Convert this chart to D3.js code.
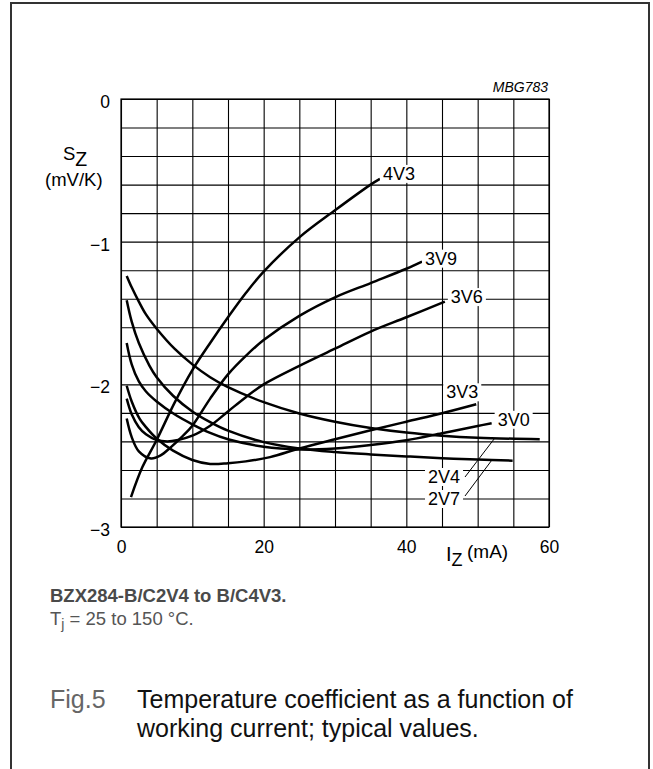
<!DOCTYPE html>
<html>
<head>
<meta charset="utf-8">
<script src="https://cdn.jsdelivr.net/npm/d3@7"></script>
<style>
  body { margin: 0; background: #fff; }
  svg { display: block; font-family: "Liberation Sans", Arial, sans-serif; }
</style>
</head>
<body>
<svg id="chart" width="653" height="769"></svg>
<script>
// axis ticks (labelled) and grid steps
var xTicks = [0, 20, 40, 60];
var yTicks = [0, -1, -2, -3];
var xGrid = d3.range(0, 61, 5);
var yGrid = d3.range(0, 16).map(function(i) { return -i * 0.2; });

// curves: [Iz (mA), Sz (mV/K)]
var curve4V3 = [[1.4,-2.79],[3,-2.58],[5,-2.39],[7.5,-2.13],[10,-1.90],[12.5,-1.71],[15,-1.53],[17.5,-1.36],[20,-1.21],[25,-0.97],[30,-0.78],[35,-0.60],[36.3,-0.56]];
var curve3V9 = [[0.8,-2.24],[1.5,-2.37],[2.5,-2.47],[4.2,-2.52],[5.5,-2.50],[7,-2.44],[8.5,-2.37],[10,-2.29],[12.5,-2.10],[15,-1.93],[17.5,-1.80],[20,-1.69],[25,-1.52],[30,-1.39],[35,-1.29],[40,-1.19],[42.2,-1.14]];
var curve3V6 = [[0.8,-2.10],[1.5,-2.21],[2.5,-2.30],[3.5,-2.35],[5,-2.39],[6.5,-2.40],[8,-2.39],[10,-2.36],[12.5,-2.29],[15,-2.19],[17.5,-2.09],[20,-2.00],[25,-1.87],[30,-1.75],[35,-1.63],[40,-1.53],[45.4,-1.42]];
var curve3V3 = [[0.8,-2.01],[1.5,-2.12],[2.6,-2.24],[3.5,-2.30],[5,-2.38],[7.3,-2.465],[10,-2.53],[12.5,-2.558],[15,-2.553],[17.5,-2.54],[20.9,-2.51],[25,-2.45],[30,-2.385],[35,-2.322],[40,-2.262],[45,-2.203],[49.8,-2.14]];
var curve3V0 = [[0.8,-1.71],[1.5,-1.86],[2.5,-1.98],[3.5,-2.05],[5,-2.12],[7.5,-2.21],[10,-2.28],[12.5,-2.34],[15,-2.385],[20,-2.437],[25,-2.456],[30,-2.449],[35,-2.425],[40,-2.392],[45,-2.343],[50,-2.292],[51.96,-2.273]];
var curve2V7 = [[0.8,-1.41],[1.5,-1.56],[2.5,-1.71],[4,-1.87],[5,-1.95],[7.3,-2.08],[10,-2.19],[12.5,-2.265],[15,-2.325],[20,-2.405],[25,-2.449],[30,-2.474],[35,-2.491],[40,-2.505],[45,-2.518],[50,-2.527],[54.9,-2.535]];
var curve2V4 = [[0.8,-1.24],[1.5,-1.32],[2.5,-1.42],[3.5,-1.51],[5,-1.61],[7.5,-1.75],[10,-1.86],[12.5,-1.95],[15,-2.02],[20,-2.125],[25,-2.204],[30,-2.262],[35,-2.306],[40,-2.338],[45,-2.36],[50,-2.374],[58.7,-2.385]];

var curveNames = ['4V3', '3V9', '3V6', '3V3', '3V0', '2V7', '2V4'];
var curveData = [curve4V3, curve3V9, curve3V6, curve3V3, curve3V0, curve2V7, curve2V4];

// where each label sits: relative to the end of its curve, or
// (for 2V4 / 2V7) at a fixed spot with a leader line to the curve
var labelLayout = {
  '4V3': { dx: 3, dy: 1 },
  '3V9': { dx: 3, dy: 3 },
  '3V6': { dx: 6, dy: 1.5 },
  '3V3': { dx: -30, dy: -6 },
  '3V0': { dx: 6, dy: 2.5 },
  '2V4': { x: 428, y: 483, leaderAt: 52.4, lx: 465, ly: 477 },
  '2V7': { x: 428, y: 505, leaderAt: 52.0, lx: 465, ly: 496 }
};

var svg = d3.select('#chart');
var x = d3.scaleLinear().domain([0, 60]).range([121, 549]);
var y = d3.scaleLinear().domain([0, -3]).range([99, 527]);

// outer frame of the datasheet figure
svg.append('path')
  .attr('d', 'M11,772 V3 H649 V772')
  .attr('fill', 'none')
  .attr('stroke', '#333')
  .attr('stroke-width', 2);

// grid, drawn with axes whose ticks span the plot
svg.append('g')
  .attr('transform', 'translate(0,' + y(-3) + ')')
  .call(d3.axisBottom(x).tickValues(xGrid).tickSize(-(y(-3) - y(0))).tickFormat(''));
svg.append('g')
  .attr('transform', 'translate(' + x(0) + ',0)')
  .call(d3.axisLeft(y).tickValues(yGrid).tickSize(-(x(60) - x(0))).tickFormat(''));
svg.selectAll('.domain').remove();
svg.selectAll('.tick line').attr('stroke', '#000').attr('stroke-width', 1.1);

svg.append('rect')
  .attr('x', x(0)).attr('y', y(0))
  .attr('width', x(60) - x(0)).attr('height', y(-3) - y(0))
  .attr('fill', 'none').attr('stroke', '#000').attr('stroke-width', 1.2);

// tick labels
var fmt = d3.format('d');
var yAxis = svg.append('g')
  .attr('transform', 'translate(' + x(0) + ',0)')
  .call(d3.axisLeft(y).tickValues(yTicks).tickSize(0).tickPadding(11).tickFormat(fmt));
var xAxis = svg.append('g')
  .attr('transform', 'translate(0,' + y(-3) + ')')
  .call(d3.axisBottom(x).tickValues(xTicks).tickSize(0).tickPadding(14).tickFormat(fmt));
yAxis.select('.domain').remove();
xAxis.select('.domain').remove();
yAxis.selectAll('text').attr('dy', '0.48em');
svg.selectAll('.tick text')
  .attr('font-family', '"Liberation Sans", Arial, sans-serif')
  .attr('font-size', 17.5)
  .attr('fill', '#000');

// curves
var line = d3.line()
  .x(function(d) { return x(d[0]); })
  .y(function(d) { return y(d[1]); })
  .curve(d3.curveCatmullRom.alpha(0.5));

svg.append('g').selectAll('path')
  .data(curveData)
  .enter().append('path')
  .attr('d', line)
  .attr('fill', 'none')
  .attr('stroke', '#000')
  .attr('stroke-width', 2.5);

// linear lookup of Sz at a given current on one curve
function valueAt(data, iz) {
  for (var i = 1; i < data.length; i++) {
    if (iz <= data[i][0]) {
      var t = (iz - data[i-1][0]) / (data[i][0] - data[i-1][0]);
      return data[i-1][1] + t * (data[i][1] - data[i-1][1]);
    }
  }
  return data[data.length - 1][1];
}

var labelGroup = svg.append('g');
curveNames.forEach(function(name, i) {
  var data = curveData[i];
  var layout = labelLayout[name];
  var tx, ty;
  if (layout.leaderAt !== undefined) {
    tx = layout.x;
    ty = layout.y;
    labelGroup.append('line')
      .attr('x1', layout.lx).attr('y1', layout.ly)
      .attr('x2', x(layout.leaderAt)).attr('y2', y(valueAt(data, layout.leaderAt)))
      .attr('stroke', '#000').attr('stroke-width', 1);
  } else {
    var end = data[data.length - 1];
    tx = x(end[0]) + layout.dx;
    ty = y(end[1]) + layout.dy;
  }
  var g = labelGroup.append('g');
  var txt = g.append('text')
    .attr('x', tx).attr('y', ty)
    .attr('font-size', 18)
    .text(name);
  // white box behind the label knocks out the grid
  var bb = txt.node().getBBox();
  g.insert('rect', 'text')
    .attr('x', bb.x - 3).attr('y', bb.y + 1)
    .attr('width', bb.width + 6).attr('height', bb.height - 2)
    .attr('fill', '#fff');
});

// figure code
svg.append('text')
  .attr('x', 548).attr('y', 92)
  .attr('text-anchor', 'end')
  .attr('font-size', 14)
  .attr('font-style', 'italic')
  .text('MBG783');

// axis titles
var sz = svg.append('text').attr('x', 63).attr('y', 160).attr('font-size', 18.5);
sz.append('tspan').text('S');
sz.append('tspan').attr('dy', 5.5).attr('font-size', 19.5).text('Z');
svg.append('text')
  .attr('x', 45).attr('y', 186)
  .attr('font-size', 18.5)
  .text('(mV/K)');

var iz = svg.append('text').attr('x', 446).attr('y', 561).attr('font-size', 20);
iz.append('tspan').text('I');
iz.append('tspan').attr('dy', 5).attr('font-size', 18).text('Z');
svg.append('text')
  .attr('x', 467).attr('y', 558)
  .attr('font-size', 19)
  .text('(mA)');

// notes and caption
svg.append('text')
  .attr('x', 50).attr('y', 602)
  .attr('font-size', 18.5)
  .attr('font-weight', 'bold')
  .attr('fill', '#4a4a4a')
  .text('BZX284-B/C2V4 to B/C4V3.');

var tj = svg.append('text').attr('x', 50).attr('y', 625).attr('font-size', 18.5).attr('fill', '#555');
tj.append('tspan').text('T');
tj.append('tspan').attr('dy', 4).attr('font-size', 14).text('j');
tj.append('tspan').attr('dy', -4).text(' = 25 to 150 \u00B0C.');

svg.append('text')
  .attr('x', 50).attr('y', 708)
  .attr('font-size', 25)
  .attr('fill', '#666')
  .text('Fig.5');
svg.append('text')
  .attr('x', 137).attr('y', 708)
  .attr('font-size', 25)
  .attr('fill', '#111')
  .text('Temperature coefficient as a function of');
svg.append('text')
  .attr('x', 137).attr('y', 737)
  .attr('font-size', 25)
  .attr('fill', '#111')
  .text('working current; typical values.');
</script>
</body>
</html>
